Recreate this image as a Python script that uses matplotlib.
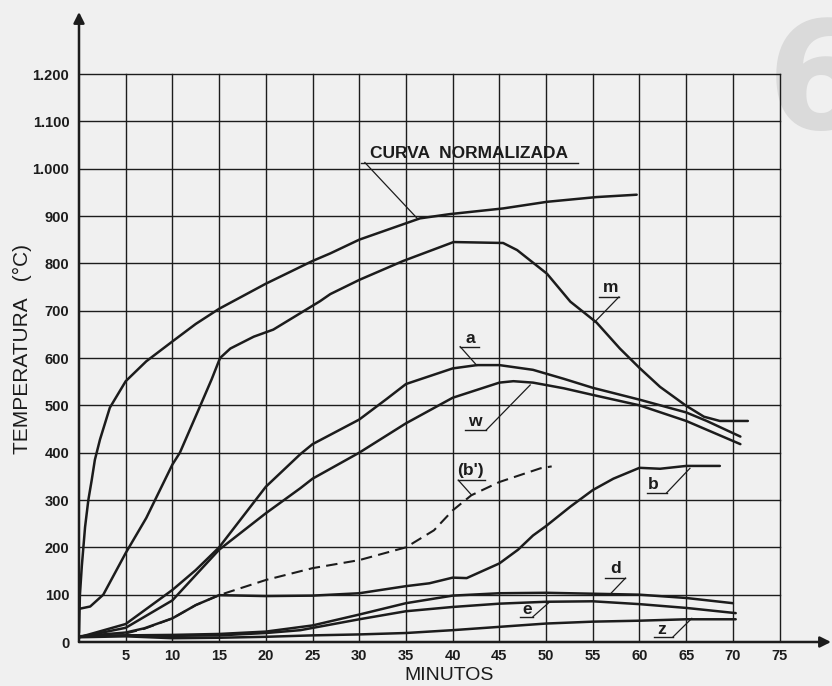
import numpy as np
import matplotlib.pyplot as plt

# --- values (minutes, degC) ---
t_norm = [0, 0.1, 0.3, 0.65, 1.0, 1.36, 1.7, 2.25, 3.3, 5, 7.2, 10, 12.5, 15, 20, 25, 26.9, 30, 36.5, 39.7, 45.4, 50.1, 55.4, 59.7]
T_norm = [20, 100, 160, 243, 300, 342, 385, 428, 495, 551, 593, 635, 672, 704, 757, 805, 821, 850, 895, 904, 916, 930, 940, 945]

t_m = [0, 1.2, 2.6, 5, 7.2, 10, 10.8, 13, 14.2, 15.1, 16.2, 18.7, 20.8, 23.3, 25.8, 26.9, 30, 34.7, 40.1, 45.4, 46.9, 50.1, 52.6, 55.4, 57.9, 60, 62.2, 65, 66.9, 68.6, 71.6]
T_m = [70, 75, 100, 188, 262, 375, 400, 500, 555, 600, 620, 645, 660, 690, 720, 735, 765, 805, 845, 843, 828, 778, 719, 675, 620, 579, 539, 499, 476, 467, 467]

t_a = [0, 5, 10, 12.5, 15, 20, 23.7, 25, 30, 32.9, 35, 40, 42.6, 45, 48.6, 51.9, 55, 60, 65, 67.2, 70.8]
T_a = [10, 38, 110, 152, 200, 328, 397, 418, 470, 513, 545, 578, 585, 585, 575, 556, 537, 512, 485, 467, 434]

t_w = [0, 5, 10, 15, 20, 23.7, 25, 30, 35, 40, 45, 46.5, 48.6, 51.9, 55, 60, 65, 70.8]
T_w = [10, 30, 88, 195, 272, 325, 345, 400, 462, 516, 548, 551, 548, 536, 522, 500, 467, 418]

t_bp = [5, 7, 10, 12.5, 15, 20, 25, 30, 35, 38, 40, 42, 45, 49.4, 50.6]
T_bp = [18, 28, 50, 78, 99, 131, 156, 173, 200, 236, 278, 310, 338, 367, 371]

t_b = [0, 5, 7, 10, 12.5, 15, 20, 25, 30, 35, 37.5, 40, 41.5, 45, 47, 48.6, 50, 52.6, 55, 57.2, 60, 62.2, 65, 68.6]
T_b = [12, 20, 29, 50, 78, 99, 97, 98, 103, 118, 124, 136, 135, 166, 195, 225, 245, 286, 321, 345, 368, 366, 372, 372]

t_d = [0, 5, 10, 15, 20, 25, 30, 35, 40, 45, 50, 55, 60, 65, 70]
T_d = [12, 14, 15, 17, 22, 35, 58, 82, 98, 103, 104, 102, 100, 93, 82]

t_e = [0, 5, 10, 15, 20, 23.7, 30, 35, 40, 45, 50, 55, 60, 65, 70.3]
T_e = [12, 14, 13, 14, 19, 25, 48, 65, 74, 81, 85, 86, 80, 72, 61]

t_z = [0, 5, 10, 15, 20, 25, 30, 35, 40, 45, 50, 55, 60, 65, 70.3]
T_z = [10, 12, 8, 9, 11, 14, 16, 19, 25, 32, 39, 43, 45, 48, 48]

x_ticks = list(range(5, 80, 5))
y_ticks = list(range(0, 1300, 100))
y_labels = ["0", "100", "200", "300", "400", "500", "600", "700", "800", "900", "1.000", "1.100", "1.200"]

ink = "#1c1c1c"
paper = "#f0f0f0"

fig = plt.figure(figsize=(8.32, 6.86), dpi=100, facecolor=paper)
ax = fig.add_axes([79 / 832, 44 / 686, 752 / 832, 630 / 686])
ax.set_facecolor("none")
ax.set_xlim(0, 80.5)
ax.set_ylim(0, 1331)

# big grey page number behind the grid
fig.text(0.922, 0.812, "6", fontsize=108, fontweight="bold", color="#dadada",
         ha="left", va="baseline", zorder=-5, family="DejaVu Sans")

# hand drawn grid
for x in x_ticks:
    ax.plot([x, x], [0, 1200], color=ink, lw=1.0, zorder=1)
for y in y_ticks[1:]:
    ax.plot([0, 75], [y, y], color=ink, lw=1.0, zorder=1)

# axes with arrows
ax.annotate("", xy=(0, 1331), xytext=(0, 0),
            arrowprops=dict(arrowstyle="-|>", lw=1.8, color=ink, mutation_scale=16, shrinkA=0, shrinkB=0),
            annotation_clip=False)
ax.annotate("", xy=(80.5, 0), xytext=(0, 0),
            arrowprops=dict(arrowstyle="-|>", lw=1.8, color=ink, mutation_scale=16, shrinkA=0, shrinkB=0),
            annotation_clip=False)
for s in ax.spines.values():
    s.set_visible(False)

# curves
lw = 1.8
style = dict(color=ink, zorder=3, solid_joinstyle="round", solid_capstyle="round")
ax.plot(t_norm, T_norm, lw=lw, **style)
ax.plot(t_m, T_m, lw=lw, **style)
ax.plot(t_a, T_a, lw=lw, **style)
ax.plot(t_w, T_w, lw=lw, **style)
ax.plot(t_bp, T_bp, color=ink, lw=1.5, ls=(0, (5.5, 3)), zorder=3)
ax.plot(t_b, T_b, lw=lw, **style)
ax.plot(t_d, T_d, lw=lw, **style)
ax.plot(t_e, T_e, lw=lw, **style)
ax.plot(t_z, T_z, lw=lw, **style)

# ticks
ax.set_xticks(x_ticks)
ax.set_xticklabels([str(x) for x in x_ticks])
ax.set_yticks(y_ticks)
ax.set_yticklabels(y_labels)
ax.tick_params(length=0, colors=ink)
ax.tick_params(axis="x", pad=5)
ax.tick_params(axis="y", pad=7)
for lab in ax.get_xticklabels() + ax.get_yticklabels():
    lab.set_family("Liberation Sans")
    lab.set_fontweight("bold")
    lab.set_fontsize(10.5)

ax.set_ylabel("TEMPERATURA   (°C)", fontsize=15, family="Liberation Sans", color=ink)
ax.yaxis.set_label_coords(-0.063, 0.465)
ax.set_xlabel("MINUTOS", fontsize=14, family="Liberation Sans", color=ink)
ax.xaxis.set_label_coords(0.492, -0.04)


def tag(text, xt, yt, u0, u1, uy, p0, p1, size=12.5):
    ax.text(xt, yt, text, ha="center", va="baseline", fontsize=size,
            family="Liberation Sans", fontweight="bold", color=ink, zorder=4)
    ax.plot([u0, u1], [uy, uy], color=ink, lw=1.0, zorder=4)
    ax.plot([p0[0], p1[0]], [p0[1], p1[1]], color=ink, lw=0.9, zorder=4)


tag("CURVA  NORMALIZADA", 41.8, 1022, 30.2, 53.4, 1013, (30.6, 1013), (36.3, 893), size=12.5)
tag("m", 56.9, 739, 55.7, 57.8, 729, (57.8, 729), (55.2, 676))
tag("a", 41.9, 632, 40.8, 42.8, 624, (40.8, 624), (42.6, 584))
tag("w", 42.4, 456, 41.3, 43.6, 448, (43.6, 448), (48.3, 543))
tag("(b')", 41.9, 353, 40.6, 43.5, 342, (40.6, 342), (42.0, 311))
tag("b", 61.5, 323, 60.8, 62.9, 315, (62.9, 315), (65.4, 367))
tag("d", 57.4, 146, 56.3, 58.5, 135, (58.5, 135), (57.0, 104))
tag("e", 48.0, 59, 47.2, 48.6, 53.5, (48.6, 53.5), (50.4, 85))
tag("z", 62.4, 17, 61.5, 63.6, 11, (63.6, 11), (65.6, 50))

fig.savefig("out.png", dpi=100, facecolor=paper)
